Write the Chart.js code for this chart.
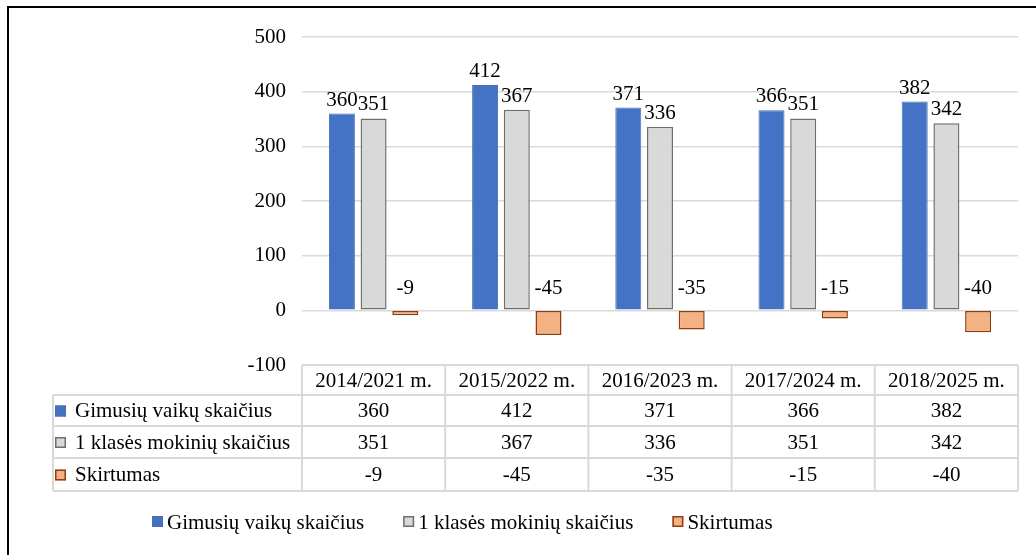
<!DOCTYPE html>
<html>
<head>
<meta charset="utf-8">
<script src="https://cdn.jsdelivr.net/npm/chart.js@4.4.1/dist/chart.umd.min.js"></script>
<style>
    body { margin: 0; overflow: hidden; background: #fff; }
    .frame { position: absolute; left: 7px; top: 6px; width: 1100px; height: 600px; border: 2px solid #000; }
    canvas { position: absolute; left: 0; top: 0; }
</style>
</head>
<body>
<div class="frame"></div>
<canvas id="myChart" width="1036" height="555"></canvas>
<script>
'use strict'

const labels = ['2014/2021 m.', '2015/2022 m.', '2016/2023 m.', '2017/2024 m.', '2018/2025 m.']
const gimusiu = [360, 412, 371, 366, 382]
const mokiniu = [351, 367, 336, 351, 342]
const skirtumas = [-9, -45, -35, -15, -40]
const seriesNames = ['Gimusių vaikų skaičius', '1 klasės mokinių skaičius', 'Skirtumas']
const yTicks = [-100, 0, 100, 200, 300, 400, 500]

const FONT = '21px "Liberation Serif", "Times New Roman", serif'
const LINE = '#d9d9d9'

function drawMarker(ctx, ds, x, y) {
    ctx.fillStyle = ds.backgroundColor
    ctx.fillRect(x, y, 11, 11)
    ctx.strokeStyle = ds.borderColor
    ctx.lineWidth = 1.5
    ctx.strokeRect(x + 0.75, y + 0.75, 9.5, 9.5)
}

const labelsPlugin = {
    id: 'valueLabels',
    afterDatasetsDraw(chart) {
        const ctx = chart.ctx
        const zeroY = chart.scales.y.getPixelForValue(0)
        ctx.save()
        ctx.font = FONT
        ctx.fillStyle = '#000'
        ctx.textAlign = 'center'
        chart.data.datasets.forEach((ds, i) => {
            chart.getDatasetMeta(i).data.forEach((bar, j) => {
                const val = ds.data[j]
                if (val >= 0) {
                    ctx.textBaseline = 'bottom'
                    ctx.fillText(val, bar.x, bar.y - 3)
                } else {
                    ctx.textBaseline = 'middle'
                    ctx.fillText(val, bar.x, zeroY - 22)
                }
            })
        })
        ctx.restore()
    }
}

const tablePlugin = {
    id: 'dataTable',
    afterDraw(chart) {
        const ctx = chart.ctx
        const area = chart.chartArea
        const xScale = chart.scales.x
        const colW = (area.right - area.left) / labels.length
        const tableLeft = 53
        const rows = [365, 395, 426, 458, 491]
        const rowData = [gimusiu, mokiniu, skirtumas]

        ctx.save()
        ctx.strokeStyle = LINE
        ctx.lineWidth = 2

        // header row + body rows
        ctx.beginPath()
        ctx.moveTo(area.left, rows[0])
        ctx.lineTo(area.right, rows[0])
        for (let r = 1; r < rows.length; r++) {
            ctx.moveTo(tableLeft, rows[r])
            ctx.lineTo(area.right, rows[r])
        }
        for (let c = 0; c <= labels.length; c++) {
            const x = area.left + c * colW
            ctx.moveTo(x, rows[0])
            ctx.lineTo(x, rows[4])
        }
        ctx.moveTo(tableLeft, rows[1])
        ctx.lineTo(tableLeft, rows[4])
        ctx.stroke()

        ctx.font = FONT
        ctx.fillStyle = '#000'
        ctx.textBaseline = 'middle'
        ctx.textAlign = 'center'
        labels.forEach((lbl, j) => {
            ctx.fillText(lbl, xScale.getPixelForValue(j), (rows[0] + rows[1]) / 2 + 1)
        })

        rowData.forEach((vals, r) => {
            const cy = (rows[r + 1] + rows[r + 2]) / 2 + 1
            ctx.textAlign = 'center'
            ctx.fillStyle = '#000'
            vals.forEach((v, j) => ctx.fillText(v, xScale.getPixelForValue(j), cy))
            drawMarker(ctx, chart.data.datasets[r], 55, cy - 6)
            ctx.textAlign = 'left'
            ctx.fillStyle = '#000'
            ctx.fillText(seriesNames[r], 75, cy)
        })

        // legend
        const ly = 522
        let lx = 152
        ctx.textAlign = 'left'
        seriesNames.forEach((name, i) => {
            drawMarker(ctx, chart.data.datasets[i], lx, ly - 6)
            ctx.fillStyle = '#000'
            ctx.fillText(name, lx + 15, ly + 1)
            lx += 15 + ctx.measureText(name).width + 39
        })
        ctx.restore()
    }
}

function onInit() {
    const ctx = document.getElementById('myChart')
    new Chart(ctx, {
        type: 'bar',
        data: {
            labels: labels,
            datasets: [{
                label: seriesNames[0],
                data: gimusiu,
                backgroundColor: '#4472C4',
                borderColor: '#4A6EAE',
                borderWidth: 1
            }, {
                label: seriesNames[1],
                data: mokiniu,
                backgroundColor: '#D9D9D9',
                borderColor: '#6E6E6E',
                borderWidth: 1.5,
                borderSkipped: false
            }, {
                label: seriesNames[2],
                data: skirtumas,
                backgroundColor: '#F4B183',
                borderColor: '#8E3E10',
                borderWidth: 1.5,
                borderSkipped: false
            }]
        },
        options: {
            responsive: false,
            animation: false,
            categoryPercentage: 0.664,
            barPercentage: 0.82,
            layout: { padding: { left: 0, top: 37, right: 18, bottom: 190 } },
            plugins: {
                legend: { display: false },
                tooltip: { enabled: false }
            },
            scales: {
                x: { display: false },
                y: {
                    min: -100,
                    max: 500,
                    afterFit(scale) { scale.width = 302 },
                    afterBuildTicks(scale) { scale.ticks = yTicks.map(v => ({ value: v })) },
                    border: { display: false },
                    grid: { color: LINE, lineWidth: 1.5, drawTicks: false },
                    ticks: {
                        padding: 16,
                        color: '#000',
                        font: { family: '"Liberation Serif", "Times New Roman", serif', size: 21 }
                    }
                }
            }
        },
        plugins: [labelsPlugin, tablePlugin]
    })
}

onInit()
</script>
</body>
</html>
